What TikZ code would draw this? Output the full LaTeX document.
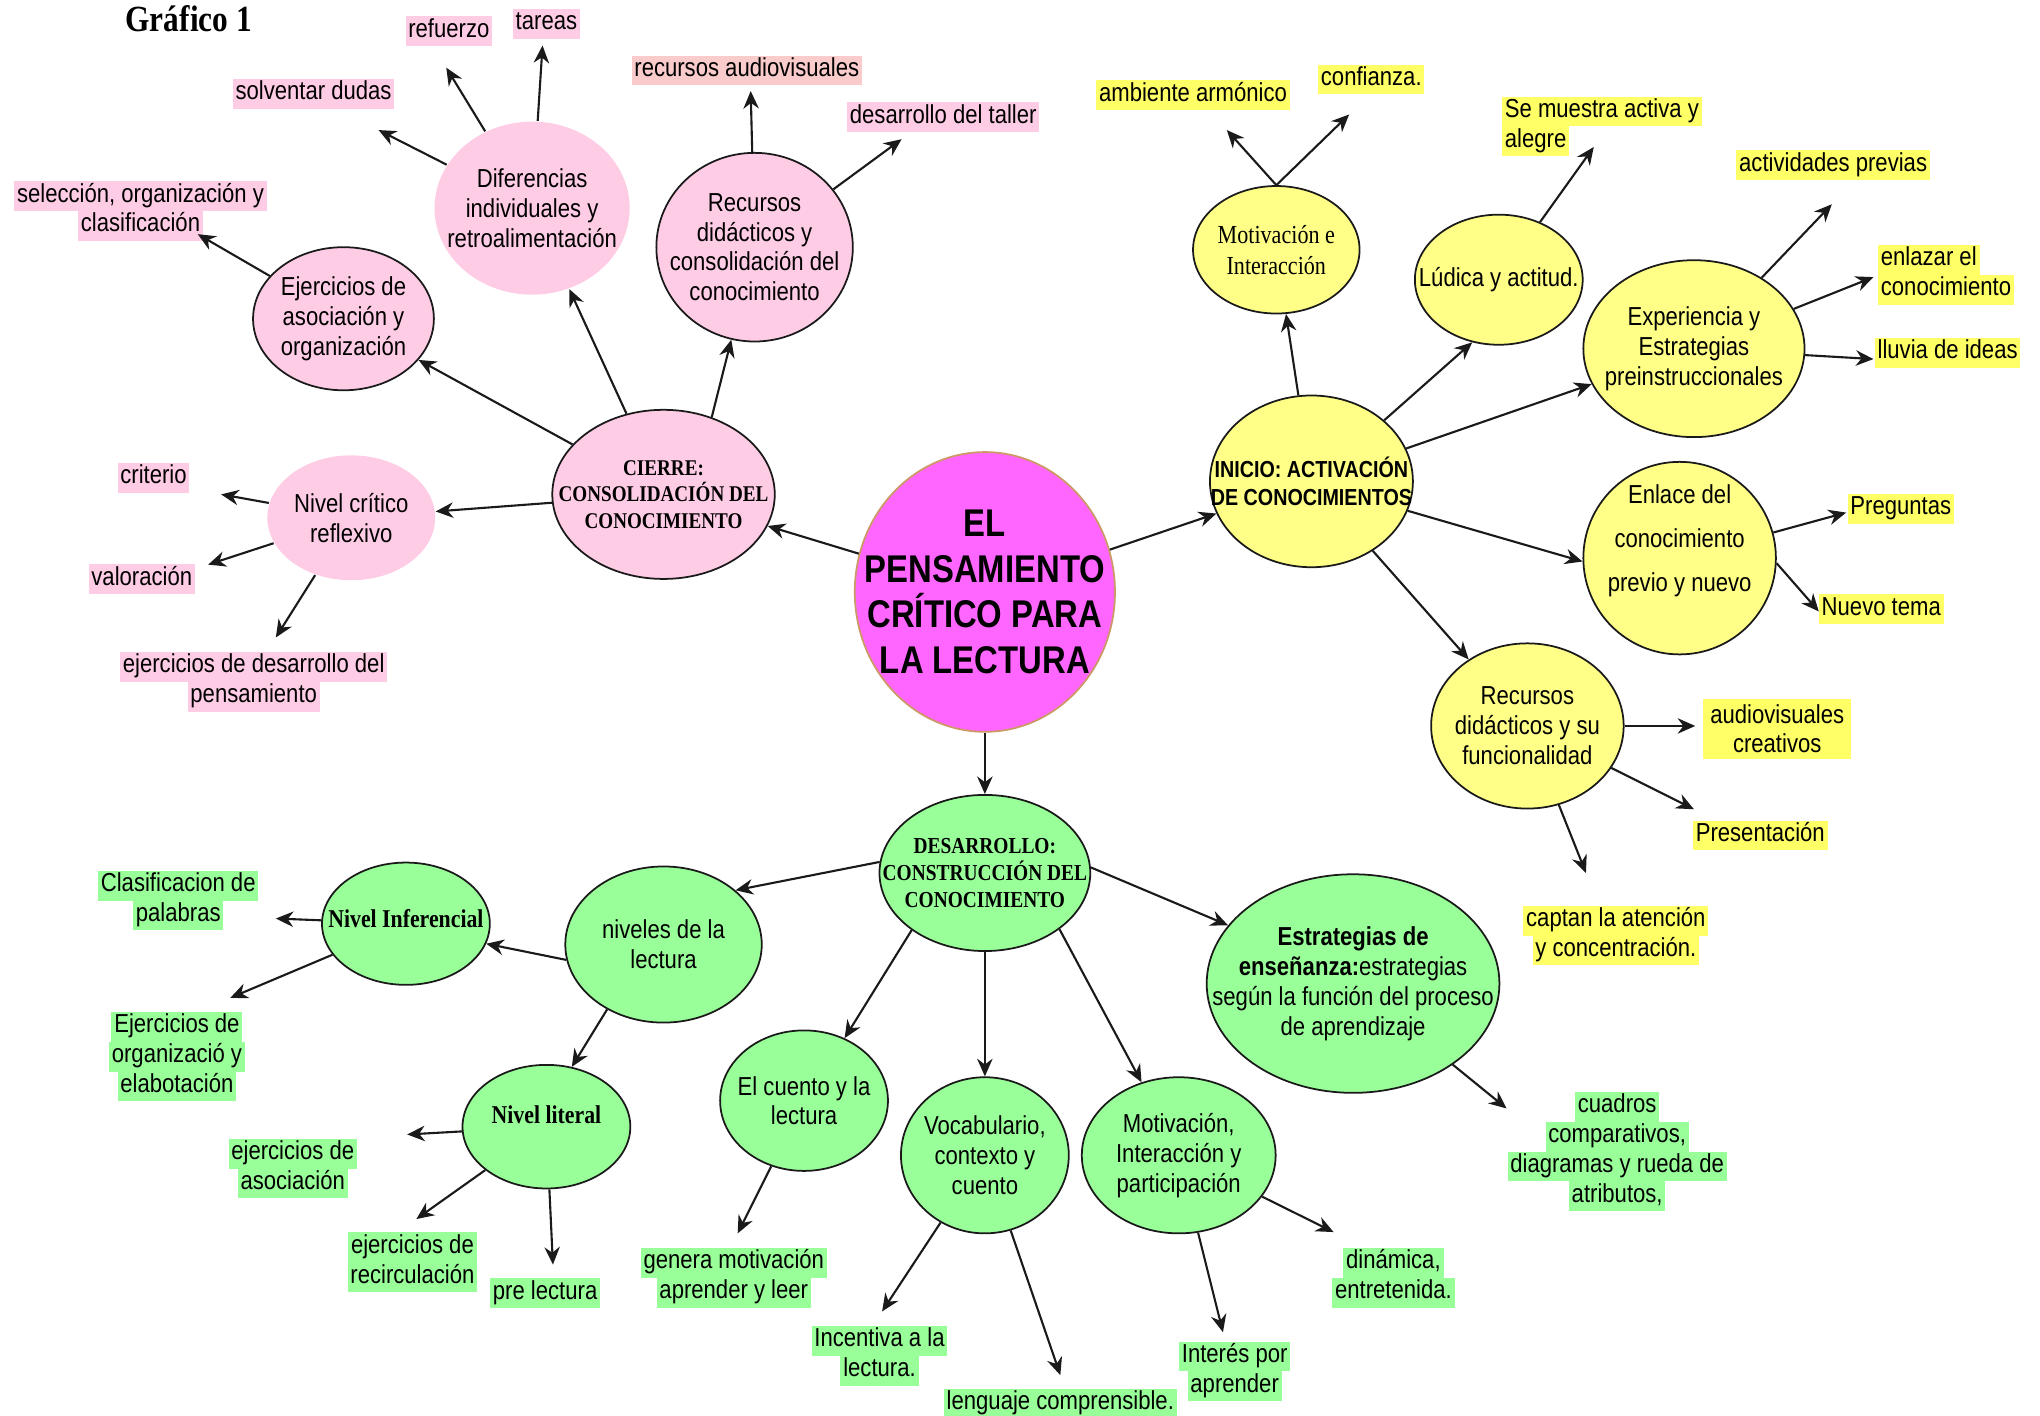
\documentclass[tikz,border=0pt]{standalone}
\usepackage{fontspec}
\setmainfont{Liberation Sans}[FakeStretch=0.85]
\newfontfamily\tnr{Liberation Serif}[FakeStretch=0.85]
\usetikzlibrary{shapes.geometric,arrows.meta,positioning}

\definecolor{bubpink}{HTML}{FFCCE6}
\definecolor{hlpink}{HTML}{FFCCE6}
\definecolor{hlsalmon}{HTML}{F9CBCB}
\definecolor{bubyellow}{HTML}{FFFF88}
\definecolor{hlyellow}{HTML}{FFFF66}
\definecolor{bubgreen}{HTML}{99FF99}
\definecolor{hlgreen}{HTML}{99FF99}
\definecolor{centro}{HTML}{FF66FF}
\definecolor{bordecentro}{HTML}{CC9966}
\definecolor{linea}{HTML}{1A1A1A}
\colorlet{hlcol}{hlpink}

\setlength{\fboxsep}{0pt}
% highlighted line of a leaf text
\newcommand{\marca}[2][hlcol]{\colorbox{#1}{\strut\kern0.8pt#2\kern0.8pt}}

\begin{document}
\begin{tikzpicture}[x=0.01301cm, y=-0.01301cm,
    sz/.style 2 args={minimum width=#1*0.01301cm, minimum height=#2*0.01301cm},
    bub/.style={ellipse, inner sep=0pt, line width=0.5pt, draw=linea},
    pinkbub/.style={bub, fill=bubpink},
    yellowbub/.style={bub, fill=bubyellow},
    greenbub/.style={bub, fill=bubgreen},
    lbl/.style={align=center, inner sep=0pt, font=\fontsize{7.4}{8.5}\selectfont},
    hdr/.style={lbl, font=\fontsize{6.4}{7.5}\tnr\bfseries},
    leaf/.style={lbl, yshift=-0.8pt},
    pinkleaf/.style={leaf, execute at begin node={\colorlet{hlcol}{hlpink}}},
    yellowleaf/.style={leaf, execute at begin node={\colorlet{hlcol}{hlyellow}}},
    greenleaf/.style={leaf, execute at begin node={\colorlet{hlcol}{hlgreen}}},
    arr/.style={draw=linea, line width=0.6pt, -{Stealth[length=5pt,width=4.4pt]}}]

    \useasboundingbox (0,0) rectangle (1568,1088);

    \node[anchor=west, inner sep=0pt, font=\fontsize{10.5}{12}\tnr\bfseries] (titulo) at (96,14) {Gráfico 1};

    % Centre
    \node[bub, fill=centro, draw=bordecentro, sz={200}{215},
        label={[lbl, font=\fontsize{11}{13}\bfseries]center:{EL\\PENSAMIENTO\\CRÍTICO PARA\\LA LECTURA}}] (centro) at (757,455) {};

    % Cierre
    \node[pinkbub, sz={171}{130}, label={[hdr]center:{CIERRE:\\CONSOLIDACIÓN DEL\\CONOCIMIENTO}}] (cierre) at (510,380) {};
    \node[pinkbub, sz={139}{110}, label={[lbl]center:{Ejercicios de\\asociación y\\organización}}] (ejer) at (264,245) {};
    \node[pinkbub, draw=none, sz={150}{133}, label={[lbl]center:{Diferencias\\individuales y\\retroalimentación}}] (dif) at (409,160) {};
    \node[pinkbub, sz={151}{145}, label={[lbl]center:{Recursos\\didácticos y\\consolidación del\\conocimiento}}] (recdid) at (580,190) {};
    \node[pinkbub, draw=none, sz={129}{96}, label={[lbl]center:{Nivel crítico\\reflexivo}}] (nivcrit) at (270,398) {};

    \node[pinkleaf] (tareas) at (420,16) {\marca{tareas}};
    \node[pinkleaf] (refuerzo) at (345,22) {\marca{refuerzo}};
    \node[pinkleaf] (solventar) at (241,70) {\marca{solventar dudas}};
    \node[pinkleaf] (seleccion) at (108,160) {\marca{selección, organización y}\\\marca{clasificación}};
    \node[pinkleaf] (recaudio) at (574,52) {\marca[hlsalmon]{recursos audiovisuales}};
    \node[pinkleaf] (taller) at (725,88) {\marca{desarrollo del taller}};
    \node[pinkleaf] (criterio) at (118,365) {\marca{criterio}};
    \node[pinkleaf] (valoracion) at (109,443) {\marca{valoración}};
    \node[pinkleaf] (ejdesarrollo) at (195,522) {\marca{ejercicios de desarrollo del}\\\marca{pensamiento}};

    \coordinate (t-tareas) at (417,35);
    \coordinate (t-refuerzo) at (343,52);
    \coordinate (t-solventar) at (291,100);
    \coordinate (t-seleccion) at (152,180);
    \coordinate (t-recaudio) at (577,70);
    \coordinate (t-taller) at (693,107);
    \coordinate (t-criterio) at (170,380);
    \coordinate (t-valoracion) at (160,434);
    \coordinate (t-ejdesarrollo) at (212,490);

    % Inicio
    \node[yellowbub, sz={156}{132}, label={[lbl, font=\fontsize{6.6}{8.1}\bfseries]center:{INICIO: ACTIVACIÓN\\DE CONOCIMIENTOS}}] (inicio) at (1008,370) {};
    \node[yellowbub, sz={128}{98}, label={[lbl, font=\fontsize{7.4}{8.9}\tnr]center:{Motivación e\\Interacción}}] (motiv) at (981,192) {};
    \node[yellowbub, sz={129}{100}, label={[lbl]center:{Lúdica y actitud.}}] (ludica) at (1152,215) {};
    \node[yellowbub, sz={170}{136}, label={[lbl]center:{Experiencia y\\Estrategias\\preinstruccionales}}] (exper) at (1302,268) {};
    \node[yellowbub, sz={148}{148}, label={[lbl, font=\fontsize{7.4}{12.6}\selectfont, yshift=5pt]center:{Enlace del\\conocimiento\\previo y nuevo}}] (enlace) at (1291,429) {};
    \node[yellowbub, sz={148}{127}, label={[lbl]center:{Recursos\\didácticos y su\\funcionalidad}}] (recfun) at (1174,558) {};

    \node[yellowleaf] (ambiente) at (917,71) {\marca{ambiente armónico}};
    \node[yellowleaf] (confianza) at (1054,59) {\marca{confianza.}};
    \node[yellowleaf, align=left, anchor=west] (alegre) at (1154,95) {\marca{Se muestra activa y}\\\marca{alegre}};
    \node[yellowleaf] (previas) at (1409,125) {\marca{actividades previas}};
    \node[yellowleaf, align=left, anchor=west] (enlazar) at (1443,209) {\marca{enlazar el}\\\marca{conocimiento}};
    \node[yellowleaf] (lluvia) at (1497,269) {\marca{lluvia de ideas}};
    \node[yellowleaf] (preguntas) at (1461,389) {\marca{Preguntas}};
    \node[yellowleaf] (nuevo) at (1446,466) {\marca{Nuevo tema}};
    \node[yellowleaf, fill=hlyellow, inner xsep=2pt, inner ysep=1.5pt] (audiovis) at (1366,558) {audiovisuales\\creativos};
    \node[yellowleaf] (presentacion) at (1353,640) {\marca{Presentación}};
    \node[yellowleaf] (captan) at (1242,717) {\marca{captan la atención}\\\marca{y concentración.}};

    \coordinate (t-ambiente) at (943,100);
    \coordinate (t-confianza) at (1037,88);
    \coordinate (t-alegre) at (1225,113);
    \coordinate (t-previas) at (1408,157);
    \coordinate (t-enlazar) at (1440,213);
    \coordinate (t-lluvia) at (1440,276);
    \coordinate (t-preguntas) at (1419,394);
    \coordinate (t-nuevo) at (1398,470);
    \coordinate (t-audiovis) at (1303,558);
    \coordinate (t-presentacion) at (1302,622);
    \coordinate (t-captan) at (1219,671);

    % Desarrollo
    \node[greenbub, sz={162}{120}, label={[hdr, font=\fontsize{6.5}{7.8}\tnr\bfseries]center:{DESARROLLO:\\CONSTRUCCIÓN DEL\\CONOCIMIENTO}}] (desa) at (757,671) {};
    \node[greenbub, sz={151}{120}, label={[lbl]center:{niveles de la\\lectura}}] (niveles) at (510,726) {};
    \node[greenbub, sz={129}{94}, label={[lbl, font=\fontsize{7.3}{8.5}\tnr\bfseries, yshift=1.5pt]center:{Nivel Inferencial}}] (ninf) at (312,710) {};
    \node[greenbub, sz={129}{95}, label={[lbl, font=\fontsize{7.3}{8.5}\tnr\bfseries, yshift=3.3pt]center:{Nivel literal}}] (nlit) at (420,866) {};
    \node[greenbub, sz={129}{108}, label={[lbl]center:{El cuento y la\\lectura}}] (cuento) at (618,846) {};
    \node[greenbub, sz={129}{120}, label={[lbl]center:{Vocabulario,\\contexto y\\cuento}}] (vocab) at (757,888) {};
    \node[greenbub, sz={149}{120}, label={[lbl]center:{Motivación,\\Interacción y\\participación}}] (motpart) at (906,888) {};
    \node[greenbub, sz={225}{168}, label={[lbl]center:{\textbf{Estrategias de}\\\textbf{enseñanza:}estrategias\\según la función del proceso\\de aprendizaje}}] (estr) at (1040,756) {};

    \node[greenleaf] (clasif) at (137,690) {\marca{Clasificacion de}\\\marca{palabras}};
    \node[greenleaf] (ejorg) at (136,810) {\marca{Ejercicios de}\\\marca{organizació y}\\\marca{elabotación}};
    \node[greenleaf] (ejasoc) at (225,896) {\marca{ejercicios de}\\\marca{asociación}};
    \node[greenleaf] (recirc) at (317,968) {\marca{ejercicios de}\\\marca{recirculación}};
    \node[greenleaf] (prelectura) at (419,992) {\marca{pre lectura}};
    \node[greenleaf] (genera) at (564,980) {\marca{genera motivación}\\\marca{aprender y leer}};
    \node[greenleaf] (incentiva) at (676,1040) {\marca{Incentiva a la}\\\marca{lectura.}};
    \node[greenleaf] (lenguaje) at (815,1077) {\marca{lenguaje comprensible.}};
    \node[greenleaf] (interes) at (949,1052) {\marca{Interés por}\\\marca{aprender}};
    \node[greenleaf] (dinamica) at (1071,980) {\marca{dinámica,}\\\marca{entretenida.}};
    \node[greenleaf] (cuadros) at (1243,883) {\marca{cuadros}\\\marca{comparativos,}\\\marca{diagramas y rueda de}\\\marca{atributos,}};

    \coordinate (t-clasif) at (212,706);
    \coordinate (t-ejorg) at (177,767);
    \coordinate (t-ejasoc) at (313,872);
    \coordinate (t-recirc) at (320,937);
    \coordinate (t-prelectura) at (425,972);
    \coordinate (t-genera) at (567,948);
    \coordinate (t-incentiva) at (678,1008);
    \coordinate (t-lenguaje) at (815,1057);
    \coordinate (t-interes) at (940,1024);
    \coordinate (t-dinamica) at (1025,947);
    \coordinate (t-cuadros) at (1158,852);

    % Connectors from the centre
    \draw[arr] (centro) -- (cierre);
    \draw[arr] (centro) -- (inicio);
    \draw[arr] (centro) -- (desa);

    % Cierre branch
    \draw[arr] (cierre) -- (ejer);
    \draw[arr] (cierre) -- (dif);
    \draw[arr] (cierre.58) -- (recdid);
    \draw[arr] (cierre) -- (nivcrit);
    \draw[arr] (ejer) -- (t-seleccion);
    \draw[arr] (dif) -- (t-solventar);
    \draw[arr] (dif) -- (t-refuerzo);
    \draw[arr] (dif) -- (t-tareas);
    \draw[arr] (recdid) -- (t-recaudio);
    \draw[arr] (recdid) -- (t-taller);
    \draw[arr] (nivcrit) -- (t-criterio);
    \draw[arr] (nivcrit) -- (t-valoracion);
    \draw[arr] (nivcrit) -- (t-ejdesarrollo);

    % Inicio branch
    \draw[arr] (inicio) -- (motiv);
    \draw[arr] (inicio.40) -- (ludica.247);
    \draw[arr] (inicio) -- (exper);
    \draw[arr] (inicio.-17) -- (enlace.182);
    \draw[arr] (inicio) -- (recfun);
    \draw[arr] (motiv.north) -- (t-ambiente);
    \draw[arr] (motiv.north) -- (t-confianza);
    \draw[arr] (ludica) -- (t-alegre);
    \draw[arr] (exper) -- (t-previas);
    \draw[arr] (exper) -- (t-enlazar);
    \draw[arr] (exper) -- (t-lluvia);
    \draw[arr] (enlace) -- (t-preguntas);
    \draw[arr] (enlace.-3) -- (t-nuevo);
    \draw[arr] (recfun) -- (t-audiovis);
    \draw[arr] (recfun) -- (t-presentacion);
    \draw[arr] (recfun) -- (t-captan);

    % Desarrollo branch
    \draw[arr] (desa.174) -- (niveles.37);
    \draw[arr] (desa.218) -- (cuento.57);
    \draw[arr] (desa) -- (vocab);
    \draw[arr] (desa.323) -- (motpart.117);
    \draw[arr] (desa.3) -- (estr.155);
    \draw[arr] (niveles.189) -- (ninf.346);
    \draw[arr] (niveles.229) -- (nlit.67);
    \draw[arr] (ninf) -- (t-clasif);
    \draw[arr] (ninf) -- (t-ejorg);
    \draw[arr] (nlit) -- (t-ejasoc);
    \draw[arr] (nlit) -- (t-recirc);
    \draw[arr] (nlit) -- (t-prelectura);
    \draw[arr] (cuento) -- (t-genera);
    \draw[arr] (vocab) -- (t-incentiva);
    \draw[arr] (vocab) -- (t-lenguaje);
    \draw[arr] (motpart) -- (t-interes);
    \draw[arr] (motpart) -- (t-dinamica);
    \draw[arr] (estr) -- (t-cuadros);
\end{tikzpicture}
\end{document}
